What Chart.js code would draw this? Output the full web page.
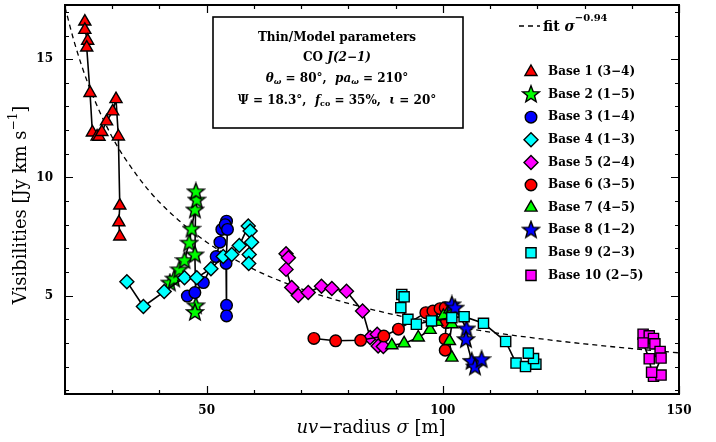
<!DOCTYPE html>
<html>
<head>
<meta charset="utf-8">
<script src="https://cdn.jsdelivr.net/npm/chart.js@4.4.1/dist/chart.umd.min.js"></script>
<style>
  html, body { margin: 0; padding: 0; background: #fff; }
  #wrap { width: 716px; height: 442px; }
</style>
</head>
<body>
<div id="wrap"><canvas id="chart" width="716" height="442"></canvas></div>
<script>
// ---------- Data ----------
const xTicks = [50, 100, 150];
const yTicks = [5, 10, 15];

const fitX = [20, 22, 25, 30, 35, 40, 50, 60, 70, 80, 90, 100, 110, 120, 130, 140, 150];
const fitY = [17.2, 15.7, 13.9, 11.7, 10.15, 8.95, 7.26, 6.11, 5.29, 4.67, 4.18, 3.78, 3.46, 3.19, 2.96, 2.76, 2.58];

const base1X = [24.2, 24.2, 24.8, 24.6, 25.3, 25.8, 26.8, 27.2, 27.8, 28.8, 30.1, 30.8, 31.3, 31.6, 31.4, 31.6];
const base1Y = [16.59, 16.24, 15.78, 15.49, 13.57, 11.9, 11.73, 11.72, 11.92, 12.37, 12.79, 13.31, 11.73, 8.81, 8.1, 7.5];

const base2X = [42.2, 43.1, 44.2, 45.3, 46.3, 46.8, 47.5, 47.9, 47.7, 47.5, 47.7, 47.5];
const base2Y = [5.55, 5.72, 6.11, 6.5, 7.24, 7.83, 8.64, 9.06, 9.41, 6.74, 4.59, 4.31];

const base3X = [45.9, 47.5, 49.3, 52.0, 52.8, 53.2, 54.2, 53.9, 54.4, 54.1, 54.2, 54.2];
const base3Y = [4.98, 5.13, 5.55, 6.65, 7.26, 7.8, 8.15, 8.0, 7.8, 6.36, 4.59, 4.14];

const base4X = [33.1, 36.6, 41.0, 45.3, 47.9, 50.9, 53.5, 55.3, 56.9, 58.8, 59.2, 59.5, 59.0, 58.9];
const base4Y = [5.59, 4.54, 5.17, 5.76, 5.76, 6.14, 6.65, 6.74, 7.12, 7.94, 7.73, 7.26, 6.74, 6.36];

const base5X = [66.8, 67.3, 66.8, 68.0, 69.4, 71.5, 74.3, 76.5, 79.6, 83.0, 84.6, 86.1, 86.3, 87.4];
const base5Y = [6.77, 6.6, 6.11, 5.34, 5.01, 5.13, 5.4, 5.3, 5.19, 4.35, 3.23, 3.37, 2.87, 2.85];

const base6X = [72.7, 77.3, 82.6, 87.5, 90.6, 96.4, 97.9, 99.4, 100.5, 100.7, 100.5, 100.5];
const base6Y = [3.19, 3.09, 3.11, 3.29, 3.58, 4.28, 4.35, 4.45, 4.49, 3.86, 3.16, 2.69];

const base7X = [89.2, 91.8, 94.8, 97.3, 98.7, 100.1, 101.5, 101.9, 101.4, 101.9];
const base7Y = [2.9, 2.98, 3.23, 3.55, 3.89, 4.14, 4.42, 3.79, 3.08, 2.38];

const base8X = [101.9, 102.6, 105.0, 104.9, 106.1, 106.8, 108.2];
const base8Y = [4.63, 4.49, 3.61, 3.16, 2.24, 2.0, 2.31];

const base9X = [91.3, 91.8, 91.1, 92.6, 94.4, 97.6, 101.9, 104.5, 108.6, 113.3, 115.5, 117.5, 119.7, 119.2, 118.1];
const base9Y = [5.05, 4.95, 4.49, 4.0, 3.79, 3.93, 4.07, 4.11, 3.83, 3.06, 2.15, 2.0, 2.1, 2.34, 2.57];

const base10X = [142.4, 143.7, 144.6, 144.9, 146.0, 146.2, 144.6, 146.2, 144.2, 143.7, 142.4];
const base10Y = [3.37, 3.30, 3.19, 2.96, 2.64, 2.36, 1.59, 1.64, 1.76, 2.33, 3.0];

const baseLabels = ['Base 1 (3\u22124)', 'Base 2 (1\u22125)', 'Base 3 (1\u22124)', 'Base 4 (1\u22123)', 'Base 5 (2\u22124)',
                    'Base 6 (3\u22125)', 'Base 7 (4\u22125)', 'Base 8 (1\u22122)', 'Base 9 (2\u22123)', 'Base 10 (2\u22125)'];

// ---------- Styles ----------
const SERIF = '"DejaVu Serif", "Liberation Serif", serif';
const RED = '#ff0000', GREEN = '#00ff00', BLUE = '#0000ff', CYAN = '#00ffff', MAGENTA = '#ff00ff';

function makeStar(fill){
  const c = document.createElement('canvas');
  c.width = 20; c.height = 20;
  const g = c.getContext('2d');
  const R = 8.8, r = 3.7, cx = 10, cy = 10.6;
  g.beginPath();
  for (let i = 0; i < 10; i++){
    const a = -Math.PI/2 + i*Math.PI/5;
    const rr = i % 2 ? r : R;
    g.lineTo(cx + rr*Math.cos(a), cy + rr*Math.sin(a));
  }
  g.closePath();
  g.fillStyle = fill; g.fill();
  g.lineWidth = 1.4; g.strokeStyle = '#000'; g.stroke();
  return c;
}

const series = [
  { xs: base1X,  ys: base1Y,  color: RED,     style: 'triangle', r: 7 },
  { xs: base2X,  ys: base2Y,  color: GREEN,   style: makeStar(GREEN), r: 8 },
  { xs: base3X,  ys: base3Y,  color: BLUE,    style: 'circle',   r: 5.8 },
  { xs: base4X,  ys: base4Y,  color: CYAN,    style: 'rectRot',  r: 7 },
  { xs: base5X,  ys: base5Y,  color: MAGENTA, style: 'rectRot',  r: 7 },
  { xs: base6X,  ys: base6Y,  color: RED,     style: 'circle',   r: 5.8 },
  { xs: base7X,  ys: base7Y,  color: GREEN,   style: 'triangle', r: 7 },
  { xs: base8X,  ys: base8Y,  color: BLUE,    style: makeStar(BLUE), r: 8 },
  { xs: base9X,  ys: base9Y,  color: CYAN,    style: 'rect',     r: 7.2 },
  { xs: base10X, ys: base10Y, color: MAGENTA, style: 'rect',     r: 7.2 },
];

function pts(xs, ys){ return xs.map((x, i) => ({ x, y: ys[i] })); }

const datasets = series.map((s, i) => ({
  label: baseLabels[i],
  data: pts(s.xs, s.ys),
  showLine: true,
  borderColor: '#000',
  borderWidth: 1.6,
  pointStyle: s.style,
  pointRadius: s.r,
  pointHoverRadius: s.r,
  pointBackgroundColor: s.color,
  pointBorderColor: '#000',
  pointBorderWidth: 1.4,
  order: 10 - i,
}));

datasets.push({
  label: 'fit',
  data: pts(fitX, fitY),
  showLine: true,
  borderColor: '#000',
  borderWidth: 1.3,
  borderDash: [5, 4],
  pointRadius: 0,
  cubicInterpolationMode: 'monotone',
  order: 20,
});

// ---------- Text helpers ----------
function rich(ctx, parts, x, y, align){
  let w = 0;
  parts.forEach(p => { ctx.font = p.f; p.w = ctx.measureText(p.t).width; w += p.w; });
  let cx = align === 'center' ? x - w/2 : x;
  parts.forEach(p => { ctx.font = p.f; ctx.fillText(p.t, cx, y + (p.dy || 0)); cx += p.w; });
}

function drawMarker(ctx, s, x, y){
  if (typeof s.style !== 'string'){ ctx.drawImage(s.style, x - 10, y - 10.6); return; }
  ctx.fillStyle = s.color; ctx.strokeStyle = '#000'; ctx.lineWidth = 1.4;
  Chart.helpers.drawPoint(ctx, { pointStyle: s.style, radius: s.r, rotation: 0, borderWidth: 1.4 }, x, y);
}

// ---------- Plugin: frame, inward ticks, titles, legend, info box ----------
const decor = {
  id: 'decor',
  afterDatasetsDraw(chart){
    const { ctx, chartArea: a, scales: { x, y } } = chart;
    ctx.save();
    ctx.strokeStyle = '#000';
    ctx.lineWidth = 1.2;
    ctx.beginPath();
    for (let v = 20; v <= 150; v += 10){
      const px = Math.round(x.getPixelForValue(v)) + 0.5;
      const len = xTicks.includes(v) ? 8 : 4;
      ctx.moveTo(px, a.bottom); ctx.lineTo(px, a.bottom - len);
      ctx.moveTo(px, a.top); ctx.lineTo(px, a.top + len);
    }
    for (let v = 1; v <= 17; v++){
      const py = Math.round(y.getPixelForValue(v)) + 0.5;
      const len = yTicks.includes(v) ? 8 : 4;
      ctx.moveTo(a.left, py); ctx.lineTo(a.left + len, py);
      ctx.moveTo(a.right, py); ctx.lineTo(a.right - len, py);
    }
    ctx.stroke();
    ctx.lineWidth = 2;
    ctx.strokeRect(a.left, a.top, a.right - a.left, a.bottom - a.top);

    ctx.fillStyle = '#000';
    ctx.textBaseline = 'middle';

    // axis titles
    rich(ctx, [
      { t: 'uv', f: 'italic 18px ' + SERIF },
      { t: '\u2212radius ', f: '18px ' + SERIF },
      { t: '\u03c3', f: 'italic 18px ' + SERIF },
      { t: ' [m]', f: '18px ' + SERIF },
    ], 371, 428, 'center');

    ctx.save();
    ctx.translate(21, 205);
    ctx.rotate(-Math.PI/2);
    rich(ctx, [
      { t: 'Visibilities [Jy km s', f: '18px ' + SERIF },
      { t: '\u22121', f: '12px ' + SERIF, dy: -7 },
      { t: ']', f: '18px ' + SERIF },
    ], 0, 0, 'center');
    ctx.restore();

    // info box
    ctx.lineWidth = 1.6;
    ctx.strokeRect(213, 17, 250, 111);
    const B = 'bold 12px ' + SERIF, BI = 'italic bold 12px ' + SERIF, SB = 'bold 8px ' + SERIF, SBI = 'italic bold 8px ' + SERIF;
    rich(ctx, [{ t: 'Thin/Model parameters', f: B }], 337, 38, 'center');
    rich(ctx, [{ t: 'CO ', f: B }, { t: 'J(2\u22121)', f: BI }], 337, 58, 'center');
    rich(ctx, [
      { t: '\u03b8', f: BI }, { t: '\u03c9', f: SBI, dy: 3 }, { t: ' = 80\u00b0,  ', f: B },
      { t: 'pa', f: BI }, { t: '\u03c9', f: SBI, dy: 3 }, { t: ' = 210\u00b0', f: B },
    ], 337, 79, 'center');
    rich(ctx, [
      { t: '\u03a8 = 18.3\u00b0,  ', f: B },
      { t: 'f', f: BI }, { t: 'co', f: SB, dy: 3 }, { t: ' = 35%,  ', f: B },
      { t: '\u03b9', f: BI }, { t: ' = 20\u00b0', f: B },
    ], 337, 101, 'center');

    // legend: fit
    ctx.lineWidth = 1.3;
    ctx.setLineDash([5, 4]);
    ctx.beginPath(); ctx.moveTo(519, 26); ctx.lineTo(540, 26); ctx.stroke();
    ctx.setLineDash([]);
    rich(ctx, [
      { t: 'fit ', f: 'bold 14px ' + SERIF },
      { t: '\u03c3', f: 'italic bold 14px ' + SERIF },
      { t: '\u22120.94', f: 'bold 10px ' + SERIF, dy: -9 },
    ], 543, 27, 'left');

    // legend: bases
    series.forEach((s, i) => {
      const ly = 72 + i * 22.6;
      drawMarker(ctx, s, 531, ly);
      ctx.fillStyle = '#000';
      rich(ctx, [{ t: baseLabels[i], f: B }], 548, ly, 'left');
    });
    ctx.restore();
  }
};

Chart.defaults.font.family = SERIF;
Chart.defaults.color = '#000';

new Chart(document.getElementById('chart'), {
  type: 'scatter',
  data: { datasets },
  options: {
    responsive: false,
    devicePixelRatio: 1,
    animation: false,
    layout: { autoPadding: false, padding: { top: 5, right: 37, left: 0, bottom: 0 } },
    plugins: { legend: { display: false }, tooltip: { enabled: false } },
    scales: {
      x: {
        type: 'linear', min: 20, max: 150,
        grid: { display: false, drawTicks: false },
        border: { display: false },
        afterBuildTicks: sc => { sc.ticks = xTicks.map(v => ({ value: v })); },
        afterFit: sc => { sc.height = 48; sc.paddingLeft = 0; sc.paddingRight = 0; },
        ticks: { padding: 10, maxRotation: 0, font: { size: 12, weight: 'bold' }, color: '#000' },
      },
      y: {
        type: 'linear', min: 0.84, max: 17.29,
        grid: { display: false, drawTicks: false },
        border: { display: false },
        afterBuildTicks: sc => { sc.ticks = yTicks.map(v => ({ value: v })); },
        afterFit: sc => { sc.width = 65; sc.paddingTop = 0; sc.paddingBottom = 0; },
        ticks: { padding: 12, font: { size: 12, weight: 'bold' }, color: '#000' },
      },
    },
  },
  plugins: [decor],
});
</script>
</body>
</html>
